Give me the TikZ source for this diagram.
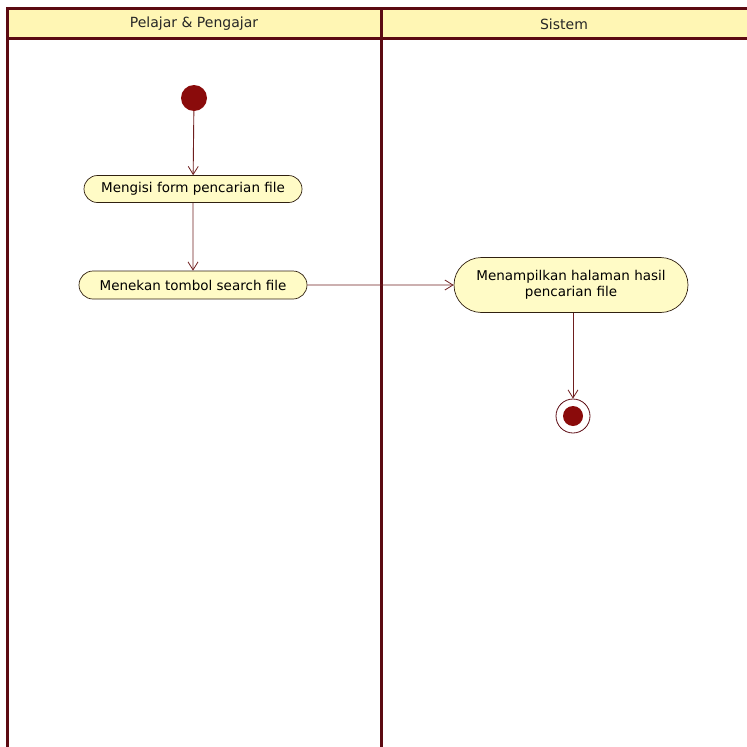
\documentclass[tikz,border=0pt]{standalone}
\usepackage{fontspec}
\setmainfont{DejaVu Sans}
\usetikzlibrary{shapes.misc,arrows.meta}
\definecolor{lane}{HTML}{5C0A12}
\definecolor{headfill}{HTML}{FFF6B4}
\definecolor{actfill}{HTML}{FFFBC6}
\definecolor{dot}{HTML}{8A0B0B}
\definecolor{flow}{HTML}{6E1E1E}
\tikzset{
  lanestroke/.style={draw=lane, line width=3pt},
  activity/.style={rounded rectangle, draw=black!75!brown, line width=0.7pt,
    fill=actfill, font=\fontsize{13.5}{16}\selectfont, inner sep=0pt,
    align=center},
  flowline/.style={draw=flow, line width=0.9pt,
    -{Straight Barb[length=8pt,width=10pt,line width=0.8pt]}},
  headtext/.style={font=\fontsize{14}{16}\selectfont, text=black!85}
}
\begin{document}
\begin{tikzpicture}[x=1pt,y=-1pt]
\useasboundingbox (0,0) rectangle (747,747);
% swimlane header band and frame
\fill[headfill] (7,8) rectangle (750,38);
\draw[lanestroke] (750,8) -- (7,8) -- (7,750);
\draw[lanestroke] (7,38) -- (750,38);
\draw[lanestroke] (381,8) -- (381,750);
\node[headtext] (laneA) at (194,24) {Pelajar \& Pengajar};
\node[headtext] (laneB) at (564,24) {Sistem};
% activity nodes
\node[circle, fill=dot, minimum size=26pt, inner sep=0pt] (start) at (194,98) {};
\node[activity, minimum width=218pt, minimum height=27pt] (isi) at (193,189) {Mengisi form pencarian file};
\node[activity, minimum width=228pt, minimum height=28pt] (tekan) at (193,285) {Menekan tombol search file};
\node[activity, minimum width=234pt, minimum height=55pt] (tampil) at (571,285) {Menampilkan halaman hasil\\pencarian file};
\node[circle, draw=lane, line width=0.8pt, minimum size=34pt, inner sep=0pt] (finish) at (573,416) {};
\node[circle, fill=dot, minimum size=20pt, inner sep=0pt] at (finish) {};
% control flows
\draw[flowline] (start) -- (isi);
\draw[flowline] (isi) -- (tekan);
\draw[flowline] (tekan) -- (tampil);
\draw[flowline] (tampil.south -| finish) -- (finish);
\end{tikzpicture}
\end{document}
